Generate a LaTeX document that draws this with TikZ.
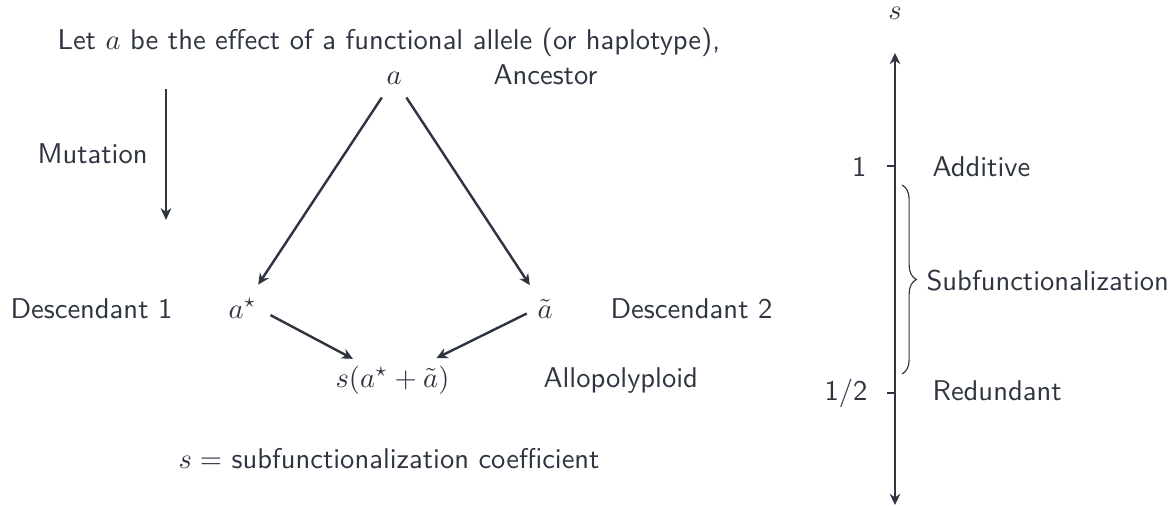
\documentclass[tikz,border=0pt]{standalone}
\usetikzlibrary{arrows.meta,decorations.pathreplacing}
\definecolor{ink}{HTML}{2E3440}
\begin{document}
\begin{tikzpicture}[x=0.35pt,y=-0.35pt,
  every node/.style={inner sep=0pt, font=\sffamily, text=ink},
  lbl/.style={anchor=base west},
  link/.style={draw=ink, line width=0.85pt, -{Stealth[length=3.9pt,width=3.7pt]}},
  mutarrow/.style={draw=ink, line width=0.55pt, -{Stealth[length=4.2pt,width=3.8pt]}},
  axisline/.style={draw=ink, line width=0.8pt, {Stealth[length=3.9pt,width=3.7pt]}-{Stealth[length=3.9pt,width=3.7pt]}},
  tickline/.style={draw=ink, line width=0.6pt},
  bracket/.style={draw=ink, line width=0.4pt, decorate, decoration={brace, amplitude=5pt}}]
\useasboundingbox (0,0) rectangle (1176,506);

% left: ancestry of the alleles
\node[lbl] (title) at (57,50) {Let $a$ be the effect of a functional allele (or haplotype),};
\node[lbl] (a) at (386,85) {$a$};
\node[lbl] (anc) at (493,85) {Ancestor};
\node[lbl] (mut) at (37,164) {Mutation};
\coordinate (mtop) at (166,89);
\coordinate (mbot) at (166,220);
\draw[mutarrow] (mtop) -- (mbot);

\node[lbl] (d1) at (10,318) {Descendant 1};
\node[lbl] (as) at (228,318) {$a^\star$};
\node[lbl] (at) at (537,318) {$\tilde a$};
\node[lbl] (d2) at (610,318) {Descendant 2};
\node[lbl] (sum) at (335,387) {$s(a^\star+\tilde a)$};
\node[lbl] (allo) at (543,387) {Allopolyploid};
\node[lbl] (coef) at (178,468) {$s=$ subfunctionalization coefficient};

\draw[link, shorten <=5pt, shorten >=5.5pt] (a) -- (as);
\draw[link, shorten <=5pt, shorten >=5.5pt] (a) -- (at);
\draw[link, shorten <=5.2pt, shorten >=4.6pt] (as.east) -- (sum);
\draw[link, shorten <=4pt, shorten >=5.4pt] (at.west) -- (sum);

% right: scale of the coefficient s
\node[anchor=base] (slab) at (895,20) {$s$};
\coordinate (sbot) at (895,505);
\coordinate (stop) at (895,53);
\draw[axisline] (sbot) -- (stop);
\coordinate (one) at (895,166);
\coordinate (half) at (895,393);
\draw[tickline] (one) -- ++(-8,0);
\draw[tickline] (half) -- ++(-8,0);
\node[anchor=base east] (onel) at (867,177) {1};
\node[anchor=base east] (halfl) at (868,400) {1/2};
\node[lbl] (add) at (932,177) {Additive};
\node[lbl] (red) at (932,400) {Redundant};
\coordinate (btop) at (902,185);
\coordinate (bbot) at (902,374);
\draw[bracket] (btop) -- (bbot);
\node[lbl] (subf) at (926,290) {Subfunctionalization};
\end{tikzpicture}
\end{document}
